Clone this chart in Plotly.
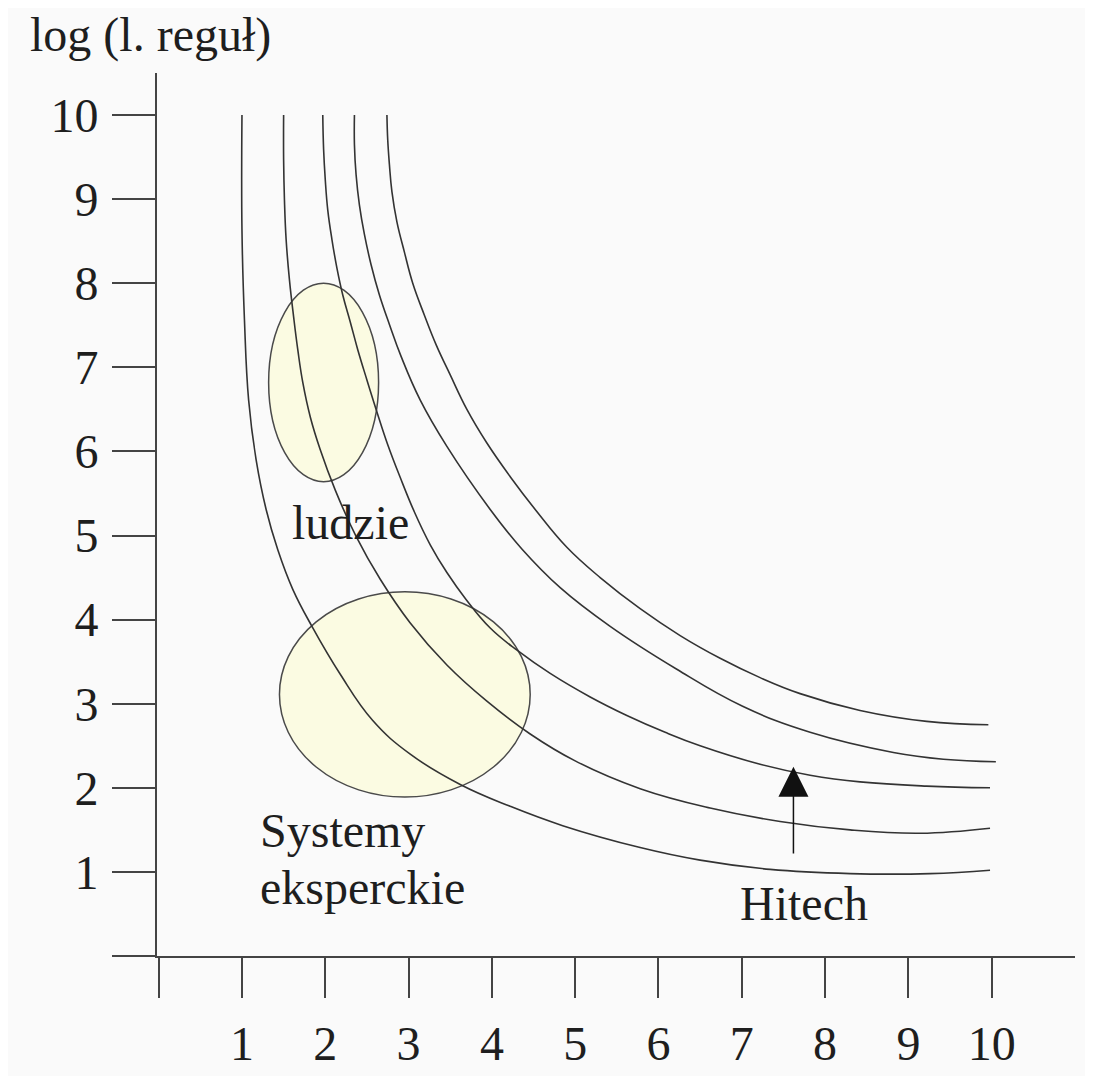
import plotly.graph_objects as go

# Krzywe stałego "poziomu", od najniższej do najwyższej
krzywa_1_x = [1.0, 1.0, 1.03, 1.08, 1.17, 1.29, 1.43, 1.61, 1.84, 2.18, 2.57, 3.02, 3.62, 4.22, 4.85, 5.78, 6.5, 7.34, 8.3, 9.26, 9.98]
krzywa_1_y = [10.0, 8.63, 7.56, 6.61, 5.9, 5.31, 4.83, 4.36, 3.92, 3.35, 2.8, 2.4, 2.04, 1.78, 1.55, 1.29, 1.14, 1.03, 0.98, 0.98, 1.02]

krzywa_2_x = [1.5, 1.5, 1.51, 1.53, 1.57, 1.62, 1.67, 1.73, 1.82, 1.94, 2.12, 2.37, 2.66, 3.02, 3.46, 3.94, 4.46, 5.0, 5.78, 6.62, 7.46, 8.3, 9.14, 9.98]
krzywa_2_y = [10.0, 9.47, 8.99, 8.52, 8.04, 7.6, 7.21, 6.82, 6.41, 6.02, 5.54, 4.99, 4.48, 3.96, 3.46, 3.03, 2.64, 2.32, 1.99, 1.76, 1.6, 1.5, 1.46, 1.52]

krzywa_3_x = [1.97, 1.98, 2.0, 2.03, 2.08, 2.14, 2.21, 2.3, 2.39, 2.5, 2.62, 2.75, 2.9, 3.07, 3.26, 3.46, 3.69, 3.98, 4.31, 4.7, 5.18, 5.62, 6.08, 6.5, 7.22, 7.82, 8.42, 9.22, 9.98]
krzywa_3_y = [10.0, 9.59, 9.23, 8.87, 8.52, 8.18, 7.86, 7.54, 7.21, 6.85, 6.47, 6.08, 5.69, 5.28, 4.89, 4.56, 4.24, 3.9, 3.63, 3.36, 3.08, 2.86, 2.66, 2.5, 2.28, 2.15, 2.07, 2.02, 2.0]

krzywa_4_x = [2.35, 2.35, 2.37, 2.41, 2.47, 2.55, 2.65, 2.77, 2.91, 3.14, 3.46, 3.98, 4.36, 4.82, 5.42, 6.22, 7.01, 7.82, 8.82, 9.42, 10.05]
krzywa_4_y = [10.0, 9.65, 9.29, 8.93, 8.58, 8.22, 7.86, 7.51, 7.13, 6.61, 6.06, 5.31, 4.84, 4.38, 3.92, 3.41, 2.97, 2.66, 2.42, 2.34, 2.31]

krzywa_5_x = [2.74, 2.75, 2.77, 2.8, 2.86, 2.95, 3.05, 3.19, 3.33, 3.5, 3.7, 3.94, 4.22, 4.52, 4.9, 5.3, 5.78, 6.26, 6.74, 7.22, 7.7, 8.42, 9.22, 9.96]
krzywa_5_y = [10.0, 9.7, 9.41, 9.09, 8.73, 8.37, 8.0, 7.62, 7.27, 6.91, 6.5, 6.1, 5.7, 5.31, 4.86, 4.5, 4.13, 3.81, 3.54, 3.31, 3.12, 2.92, 2.79, 2.75]

krzywe_x = [krzywa_1_x, krzywa_2_x, krzywa_3_x, krzywa_4_x, krzywa_5_x]
krzywe_y = [krzywa_1_y, krzywa_2_y, krzywa_3_y, krzywa_4_y, krzywa_5_y]

# Obszary (elipsy): ludzie, systemy eksperckie
obszary = ["ludzie", "Systemy eksperckie"]
obszary_x0 = [1.32, 1.45]
obszary_x1 = [2.64, 4.46]
obszary_y0 = [5.64, 1.89]
obszary_y1 = [8.0, 4.33]

# Strzałka "Hitech"
hitech_x = 7.62
hitech_od = 1.2
hitech_do = 2.25

# Osie
ticki = list(range(0, 11))
etykiety = [""] + [str(i) for i in range(1, 11)]

FONT = "Liberation Serif, Times New Roman, serif"
TEKST = "#1e1e1e"
LINIA = "#333333"
TLO = "#fafafa"
ROZMIAR = 48

fig = go.Figure()

# elipsy pod krzywymi
for i in range(len(obszary)):
    fig.add_shape(type="circle", xref="x", yref="y",
                  x0=obszary_x0[i], x1=obszary_x1[i],
                  y0=obszary_y0[i], y1=obszary_y1[i],
                  fillcolor="#fbfbe2", line=dict(color="#4a4a4a", width=1.5),
                  layer="below")

for kx, ky in zip(krzywe_x, krzywe_y):
    fig.add_trace(go.Scatter(x=kx, y=ky, mode="lines", hoverinfo="skip",
                             line=dict(color=LINIA, width=1.6, shape="spline", smoothing=1.2)))

# napisy
napis = dict(size=ROZMIAR, family=FONT, color=TEKST)
fig.add_annotation(x=2.3, y=5.15, text="ludzie", showarrow=False, font=napis)
fig.add_annotation(x=1.19, y=1.49, text="Systemy", showarrow=False, xanchor="left", font=napis)
fig.add_annotation(x=1.19, y=0.81, text="eksperckie", showarrow=False, xanchor="left", font=napis)
fig.add_annotation(x=7.75, y=0.62, text="Hitech", showarrow=False, font=napis)

# strzałka
fig.add_annotation(x=hitech_x, y=hitech_do, ax=hitech_x, ay=hitech_od,
                   xref="x", yref="y", axref="x", ayref="y", text="",
                   showarrow=True, arrowhead=2, arrowsize=4, arrowwidth=1.5,
                   arrowcolor="#111111", standoff=0, startstandoff=0)

os_wspolne = dict(
    tickvals=ticki, ticktext=etykiety, ticks="outside", tickwidth=1.5,
    tickcolor="#444444", showline=True, linecolor="#444444", linewidth=2,
    showgrid=False, zeroline=False, tickfont=dict(size=ROZMIAR, family=FONT, color=TEKST),
)

fig.update_layout(
    width=1093, height=1076,
    margin=dict(l=149, r=26, t=65, b=128),
    paper_bgcolor=TLO, plot_bgcolor=TLO,
    showlegend=False,
    title=dict(text="log (l. reguł)", x=22 / 1093, xanchor="left",
               y=1 - 26 / 1076, yanchor="middle", xref="container", yref="container",
               font=dict(size=ROZMIAR, family=FONT, color=TEKST)),
    xaxis=dict(range=[-0.02, 11.0], ticklen=40, ticklabelstandoff=4, **os_wspolne),
    yaxis=dict(range=[0, 10.5], ticklen=43, ticklabelstandoff=4, **os_wspolne),
)

fig.write_html("out.html")
